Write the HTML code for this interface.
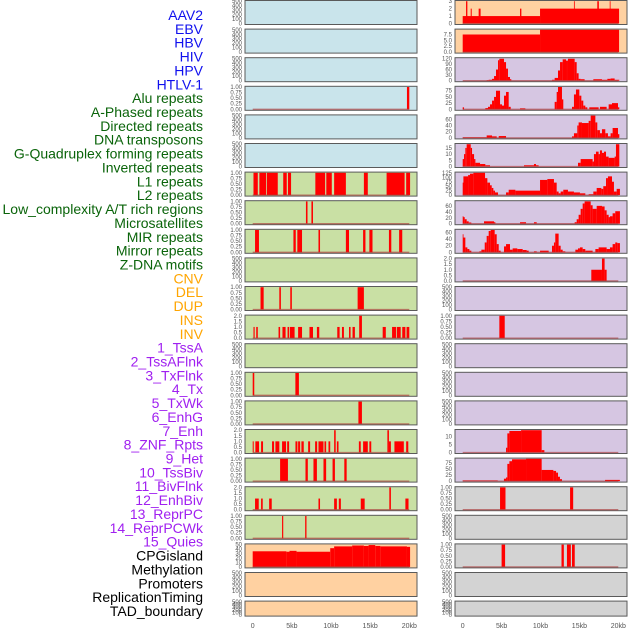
<!DOCTYPE html>
<html><head><meta charset="utf-8">
<style>
html,body{margin:0;padding:0;background:#fff;}
svg{display:block;font-family:"Liberation Sans",sans-serif;}
</style></head>
<body>
<svg id="chart" width="630" height="630" viewBox="0 0 630 630" xmlns="http://www.w3.org/2000/svg"></svg>
<script>
const trackLabels = ["AAV2","EBV","HBV","HIV","HPV","HTLV-1","Alu repeats","A-Phased repeats","Directed repeats","DNA transposons","G-Quadruplex forming repeats","Inverted repeats","L1 repeats","L2 repeats","Low_complexity A/T rich regions","Microsatellites","MIR repeats","Mirror repeats","Z-DNA motifs","CNV","DEL","DUP","INS","INV","1_TssA","2_TssAFlnk","3_TxFlnk","4_Tx","5_TxWk","6_EnhG","7_Enh","8_ZNF_Rpts","9_Het","10_TssBiv","11_BivFlnk","12_EnhBiv","13_ReprPC","14_ReprPCWk","15_Quies","CPGisland","Methylation","Promoters","ReplicationTiming","TAD_boundary"];
const labelGroups = [6,13,5,15,5];
const labelColors = ["#1010ee","#0a640a","#ffa500","#a020f0","#000000"];
const xTicks = [0,5,10,15,20];
const xTickLabels = ["0","5kb","10kb","15kb","20kb"];
const leftBg = ["b","b","b","b","b","b","g","g","g","g","g","g","g","g","g","g","g","g","g","o","o","o"];
const rightBg = ["o","o","p","p","p","p","p","p","p","p","p","p","p","p","p","p","p","y","y","y","y","y"];
const leftYMax = [500,500,500,1,500,500,1,1,1,500,1,2,500,1,1,2,1,2,1,50,500,500];
const rightYMax = [3,9.5,120,90,72,18,125,75,68,2,500,1,500,500,500,14,92,1,500,1,500,500];
const leftTicks = ["E","E","E","u","E","E","u","u","u","E","u","t","E","u","u","t","u","t","u","m","E","E"];
const rightTicks = ["r3","r75","r120","r25","r20","r5","r125","r20","r20","t","E","u","E","E","E","r10","r25","u","E","u","E","E"];
const leftSegs = [
 [],[],[],[[19.7,20.0,1]],[],[],
 [[0.1,0.65,1],[0.85,1.7,1],[1.8,3.2,1],[3.9,4.35,1],[4.5,4.9,1],[8.0,9.25,1],[9.4,10.1,1],[10.4,11.9,1],[14.2,14.7,1],[17.1,19.4,1],[19.6,20.1,1]],
 [[6.8,7.0,1],[7.5,7.7,1]],
 [[0.3,0.8,1],[5.2,5.5,1],[5.7,6.3,1],[8.4,8.6,1],[11.9,12.3,1],[14.1,14.4,1],[14.9,15.3,1],[17.4,17.7,1],[18.7,19.1,1]],
 [],
 [[1.0,1.4,1],[3.4,3.6,1],[4.8,5.0,1],[13.4,14.2,1]],
 [[0.1,0.25,1],[0.45,0.65,1],[3.3,3.5,1],[3.8,4.2,1],[4.45,4.65,1],[4.75,5.35,1],[5.8,6.3,1],[7.25,7.7,1],[8.2,8.5,1],[10.8,11.1,1],[11.4,11.65,1],[12.3,12.5,1],[12.75,13.05,1],[13.6,13.95,2],[16.6,17.0,1],[17.8,18.3,1],[18.4,18.9,1],[19.1,19.5,1],[19.65,20.0,1]],
 [],
 [[0,0.2,1],[5.45,5.9,1]],
 [[13.5,13.95,1]],
 [[0,0.13,1],[0.34,0.81,1],[1.07,1.32,1],[2.47,2.73,1],[2.9,3.4,1],[3.75,4.26,1],[4.4,4.65,1],[5.46,5.71,1],[5.8,6.06,1],[6.22,6.52,1],[7.08,7.33,1],[7.97,8.23,1],[8.4,9.04,1],[9.17,9.38,1],[9.68,9.9,1],[10.4,10.6,2],[10.75,10.96,1],[13.56,13.8,1],[14.1,14.7,1],[14.9,15.14,1],[17.2,17.4,2],[17.4,17.65,1],[18.1,19.3,1],[19.6,19.87,1]],
 [[3.5,4.5,1],[6.74,7.04,1],[7.76,8.2,1],[9.04,9.38,1],[10.2,10.5,1],[11.7,12.0,1]],
 [[0.3,0.77,1],[1.07,1.28,1],[2.1,2.43,1],[8.4,8.6,1],[10.4,10.75,1],[11.0,11.26,1],[13.8,14.3,1],[17.45,17.65,2],[19.5,19.9,1]],
 [[3.75,3.9,1],[6.7,6.87,1]],
 [[0,4.3,35],[4.3,4.7,34],[4.7,5.6,36],[5.6,9.9,34],[9.9,10.4,42],[10.4,12.7,46],[12.7,14.2,48],[14.2,14.8,47],[14.8,15.65,49],[15.65,16.3,47],[16.3,19.7,46],[19.7,20.1,45]],
 [],[]
];
const rightSegs = [
 [[0,9.94,1],[9.94,20.1,2],[0.43,0.6,3],[1.03,1.16,2],[2.05,2.3,2],[7.37,7.54,2],[14.3,14.4,3],[17.3,17.5,3],[18.9,19.0,3]],
 [[0,9.94,7.5],[9.94,20.1,9.5]],
 [[3.08,3.34,3],[3.34,3.77,5],[3.77,4.03,10],[4.03,4.28,25],[4.28,4.54,60],[4.54,4.71,110],[4.71,5.31,118],[5.31,5.57,100],[5.57,5.82,65],[5.82,6.08,20],[6.08,6.25,8],[11.48,11.82,5],[11.82,12.25,15],[12.25,12.51,55],[12.51,12.85,100],[12.85,13.28,115],[13.28,13.53,108],[13.53,14.39,118],[14.39,14.65,100],[14.65,14.9,40],[14.9,15.16,10],[15.16,15.67,8],[16.79,17.9,8],[17.9,18.59,5],[18.59,19.01,10],[19.01,19.53,12],[19.53,20.13,5]],
 [[0,0.17,8],[2.91,3.25,5],[3.25,3.51,10],[3.51,3.77,20],[3.77,4.03,35],[4.03,4.28,50],[4.28,4.8,75],[4.8,5.05,20],[5.05,5.31,15],[5.31,5.57,55],[5.57,5.91,70],[5.91,6.17,10],[7.37,8.05,4],[11.82,12.08,30],[12.08,12.25,70],[12.25,12.76,90],[12.76,12.93,40],[14.05,14.3,10],[14.3,14.56,60],[14.56,14.99,80],[14.99,15.25,55],[15.25,15.5,35],[15.5,15.76,15],[15.76,16.02,8],[16.27,17.47,8],[17.64,18.5,10],[18.76,19.19,20],[19.19,19.96,25],[19.96,20.13,8]],
 [[0,3.08,2],[3.08,3.77,8],[3.77,4.37,5],[4.63,5.57,6],[14.05,14.3,5],[14.3,14.73,15],[14.73,14.9,40],[14.9,15.33,50],[15.33,16.19,48],[16.19,16.45,55],[16.45,17.05,72],[17.05,17.3,50],[17.3,17.64,25],[17.64,17.9,15],[17.9,18.33,28],[18.33,18.67,15],[18.67,19.01,5],[19.01,19.27,15],[19.27,19.96,32],[19.96,20.13,12]],
 [[0,0.17,6],[0.17,0.34,10],[0.34,0.51,15],[0.51,1.03,18],[1.03,1.2,15],[1.2,1.46,10],[1.46,1.63,6],[1.63,2.23,3],[2.23,2.91,2],[2.91,3.51,1],[7.88,9.16,1],[9.16,9.42,2],[9.42,9.76,1],[14.82,15.16,3],[15.16,16.7,6],[16.7,16.87,4],[16.87,17.13,10],[17.13,17.47,12],[17.47,17.64,10],[17.64,17.9,13],[17.9,18.16,11],[18.16,18.42,12],[18.42,18.76,8],[18.76,19.53,7],[19.53,19.7,8],[19.7,20.13,18]],
 [[0,0.09,70],[0.09,0.69,105],[0.69,0.94,112],[0.94,1.37,120],[1.37,2.87,125],[2.87,3.17,95],[3.17,3.51,70],[3.51,3.73,55],[3.73,3.94,40],[3.94,4.15,25],[4.15,4.54,15],[5.57,5.91,15],[5.91,6.77,30],[6.77,9.94,25],[9.94,10.88,85],[10.88,11.73,90],[11.73,12.08,70],[12.08,12.33,20],[12.33,12.59,10],[12.59,12.93,20],[12.93,13.53,30],[13.53,14.3,20],[14.3,15.07,15],[15.07,15.76,10],[16.19,16.79,5],[16.79,17.22,20],[17.22,17.82,40],[17.82,18.07,35],[18.07,18.42,50],[18.42,18.67,95],[18.67,19.19,105],[19.19,19.44,75],[19.44,19.79,20],[19.79,20.21,35]],
 [[0,0.09,25],[0.09,0.26,22],[0.26,0.51,15],[0.51,0.77,8],[0.77,1.11,4],[2.74,4.03,8],[4.03,4.2,5],[7.37,8.14,5],[9.16,9.51,5],[14.39,14.65,5],[14.65,14.9,15],[14.9,15.16,30],[15.16,15.42,50],[15.42,15.67,68],[15.67,16.45,75],[16.45,16.7,62],[16.7,17.22,50],[17.22,17.9,60],[17.9,18.24,58],[18.24,18.5,45],[18.5,18.76,30],[18.76,18.93,22],[18.93,19.27,25],[19.27,19.61,35],[19.61,20.21,42]],
 [[0,0.09,55],[0.09,0.34,45],[0.34,0.6,15],[0.6,0.86,10],[0.86,1.11,5],[2.14,2.4,3],[2.4,2.83,8],[2.83,3.08,30],[3.08,3.34,50],[3.34,3.6,65],[3.6,4.11,68],[4.11,4.37,55],[4.37,4.63,25],[4.63,4.88,5],[5.31,5.57,18],[5.57,6.08,25],[6.08,6.42,8],[6.42,7.02,12],[7.02,7.71,10],[7.71,8.22,7],[8.22,8.48,5],[9.16,9.51,3],[9.94,11.05,5],[11.48,11.73,20],[11.73,11.9,30],[11.9,12.33,57],[12.33,12.59,20],[12.59,12.85,8],[12.85,13.19,3],[14.48,14.82,8],[14.82,15.07,12],[15.07,15.42,15],[15.42,15.76,10],[15.76,16.7,5],[17.05,17.47,10],[17.47,18.5,15],[18.5,18.93,10],[18.93,19.27,15],[19.27,19.61,25],[19.61,19.87,30],[19.87,20.21,28]],
 [[16.53,17.9,1],[17.9,18.24,2],[18.24,18.5,1]],
 [],
 [[4.71,5.4,1]],
 [],[],[],
 [[5.57,5.74,3],[5.74,6.0,12],[6.0,7.5,13.5],[7.5,10.15,14],[10.15,10.5,1.5]],
 [[0,4.5,3],[5.3,5.57,10],[5.57,5.74,15],[5.74,6.0,71],[6.0,6.34,82],[6.34,8.14,90],[8.14,10.15,92],[10.15,11.65,46],[11.65,12.0,42],[12.0,12.25,35],[12.25,12.5,18],[12.5,12.76,8],[18.3,20.2,5]],
 [[4.8,5.5,1],[13.8,14.2,1]],
 [],
 [[5.0,5.45,1],[12.7,13.0,1],[13.4,13.9,1],[14.05,14.4,1]],
 [],[]
];
const tickSets = {
 E:[[0,"0"],[100,"100"],[200,"200"],[300,"300"],[400,"400"],[500,"500"]],
 u:[[0,"0.00"],[0.25,"0.25"],[0.5,"0.50"],[0.75,"0.75"],[1,"1.00"]],
 t:[[0,"0.0"],[0.5,"0.5"],[1,"1.0"],[1.5,"1.5"],[2,"2.0"]],
 m:[[0,"0"],[10,"10"],[20,"20"],[30,"30"],[40,"40"],[50,"50"]],
 r3:[[0,"0"],[1,"1"],[2,"2"],[3,"3"]],
 r75:[[0,"0.0"],[2.5,"2.5"],[5,"5.0"],[7.5,"7.5"]],
 r120:[[0,"0"],[30,"30"],[60,"60"],[90,"90"],[120,"120"]],
 r25:[[0,"0"],[25,"25"],[50,"50"],[75,"75"]],
 r20:[[0,"0"],[20,"20"],[40,"40"],[60,"60"]],
 r5:[[0,"0"],[5,"5"],[10,"10"],[15,"15"]],
 r10:[[0,"0"],[5,"5"],[10,"10"]],
 r125:[[0,"0"],[25,"25"],[50,"50"],[75,"75"],[100,"100"],[125,"125"]]
};
const bgColors = {b:"#c9e4eb",g:"#c9e0a4",o:"#ffd1a1",p:"#d6c6e2",y:"#d3d3d3"};

const NS = "http://www.w3.org/2000/svg";
const svg = document.getElementById("chart");
function mk(tag, attrs, parent){
  const e = document.createElementNS(NS, tag);
  for (const k in attrs) e.setAttribute(k, attrs[k]);
  (parent||svg).appendChild(e);
  return e;
}
const rowTop = k => k*28.6;
const rowH = k => k===21 ? 16 : 25;
const xLeft = kb => 252.7 + kb*7.83;
const xRight = kb => 462.7 + kb*7.78;
const cols = [
 {x0:245, x1:417, xs:xLeft, bg:leftBg, ymax:leftYMax, ticks:leftTicks, segs:leftSegs, tx:242, name:"left"},
 {x0:455, x1:627, xs:xRight, bg:rightBg, ymax:rightYMax, ticks:rightTicks, segs:rightSegs, tx:452, name:"right"}
];

let li = 0;
labelGroups.forEach((n, g) => {
  for (let j = 0; j < n; j++) {
    const t = mk("text", {x:203, y:20 + li*13.86, "text-anchor":"end", "font-size":"14", fill:labelColors[g]});
    
    
    t.textContent = trackLabels[li];
    li++;
  }
});

cols.forEach(c => {
  for (let k = 0; k < 22; k++) {
    const top = rowTop(k), h = rowH(k);
    const y0 = top + h - 1.5, yT = top + 1.2;
    const ym = c.ymax[k];
    const ys = v => y0 - v/ym*(y0 - yT);
    const g = mk("g", {});
    
    
    const bg = mk("rect", {x:c.x0, y:top+0.5, width:c.x1-c.x0, height:h-1, fill:bgColors[c.bg[k]], stroke:"#5a5a5a", "stroke-width":"1"}, g);
    
    
    const segs = c.segs[k];
    segs.forEach(s => {
      const x1 = c.xs(s[0]), x2 = c.xs(s[1]);
      const r = mk("rect", {x:x1, y:ys(s[2]), width:Math.max(x2-x1,0.8), height:y0-ys(s[2]), fill:"#ff0000"}, g);
      
      
    });
    if (segs.length) {
      const bl = mk("line", {x1:c.xs(0), x2:c.xs(20), y1:y0, y2:y0, stroke:"rgba(170,60,60,0.65)", "stroke-width":"1.3"}, g);
      
      
    }
    tickSets[c.ticks[k]].forEach(tk => {
      const t = mk("text", {x:c.tx, y:ys(tk[0]) + 2, "text-anchor":"end", "font-size":"6", fill:"#555"}, g);
      
      
      t.textContent = tk[1];
    });
  }
  xTicks.forEach((v, i) => {
    const t = mk("text", {x:c.xs(v), y:628, "text-anchor":"middle", "font-size":"7", fill:"#555"});
    
    
    t.textContent = xTickLabels[i];
  });
});
</script>
</body></html>
